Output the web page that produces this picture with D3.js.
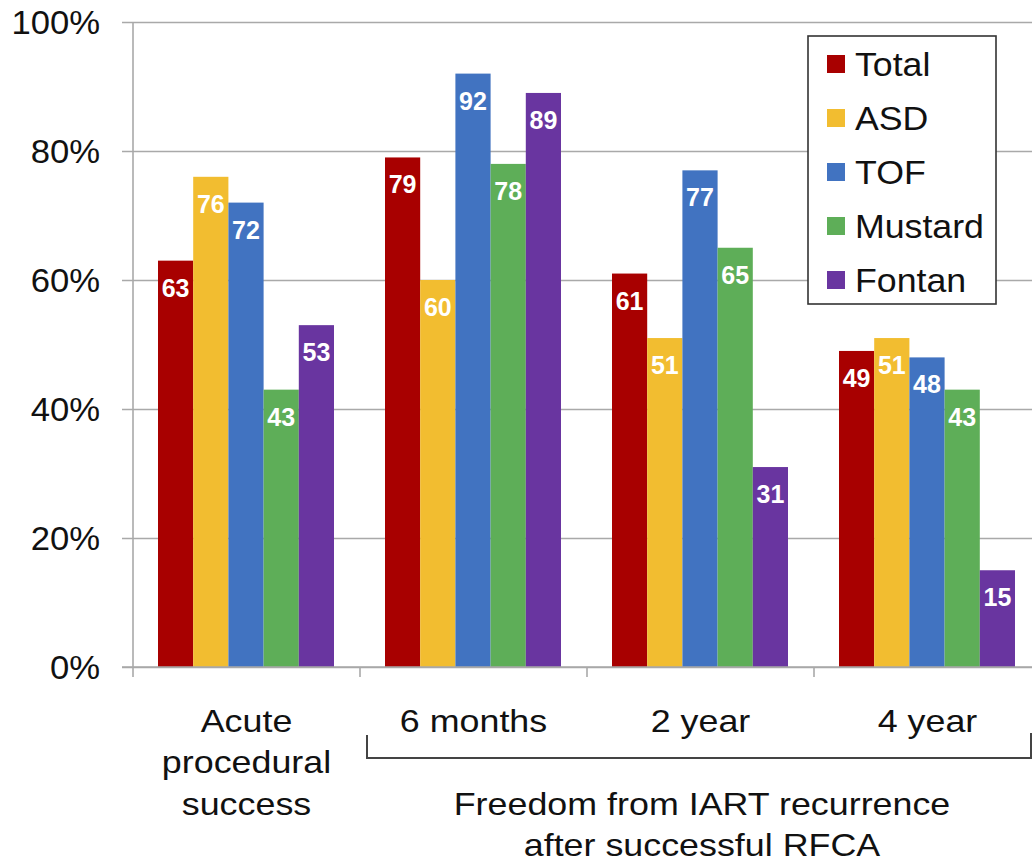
<!DOCTYPE html>
<html>
<head>
<meta charset="utf-8">
<script src="https://cdn.jsdelivr.net/npm/d3@7"></script>
<style>
  html, body { margin: 0; padding: 0; background: #fff; }
  svg { display: block; font-family: "Liberation Sans", Arial, sans-serif; }
</style>
</head>
<body>
<svg id="chart" width="1032" height="862"></svg>
<script>
// Categories along the x axis (multi-line labels split by "\n")
const categories = ["Acute\nprocedural\nsuccess", "6 months", "2 year", "4 year"];
// Series shown in the legend
const series = ["Total", "ASD", "TOF", "Mustard", "Fontan"];
const colors = ["#a80000", "#f2bd30", "#4173c1", "#5eae58", "#6935a0"];
// Percent values, one array per series, ordered by category
const total   = [63, 79, 61, 49];
const asd     = [76, 60, 51, 51];
const tof     = [72, 92, 77, 48];
const mustard = [43, 78, 65, 43];
const fontan  = [53, 89, 31, 15];
const yTicks = [0, 20, 40, 60, 80, 100];
const groupLabel = ["Freedom from IART recurrence", "after successful RFCA"];

const values = [total, asd, tof, mustard, fontan];
const rows = [];
categories.forEach((c, ci) => {
  series.forEach((s, si) => rows.push({ cat: c, ser: s, si, v: values[si][ci] }));
});

const svg = d3.select("#chart");
const m = { left: 133, top: 22, bottom: 667 };

const y = d3.scaleLinear().domain([0, 100]).range([m.bottom, m.top]);
const x0 = d3.scaleBand().domain(categories).range([m.left, m.left + 908]).paddingInner(0);
const x1 = d3.scaleBand().domain(series).range([25, 201]);
const color = d3.scaleOrdinal().domain(series).range(colors);

// text helper: horizontally widened glyphs anchored at (x, y)
function wideText(parent, x, yPos, lines, size, sx, anchor, lineGap, firstDy) {
  const g = parent.append("g").attr("transform", `translate(${x},${yPos}) scale(${sx},1)`);
  const t = g.append("text").attr("text-anchor", anchor).attr("font-size", size).attr("fill", "#111");
  lines.forEach((line, i) => {
    t.append("tspan").attr("x", 0).attr("dy", i === 0 ? (firstDy || 0) : lineGap).text(line);
  });
  return t;
}

// gridlines
const yAxis = d3.axisLeft(y).tickValues(yTicks).tickSize(-(1032 - m.left)).tickSizeOuter(0)
  .tickFormat("");
const gy = svg.append("g").attr("transform", `translate(${m.left},0)`).call(yAxis);
gy.select(".domain").remove();
gy.selectAll(".tick line").attr("stroke", "#a9a9a9").attr("stroke-width", 1.6)
  .attr("x1", -11);

// y tick labels
yTicks.forEach(v => {
  wideText(svg, 100, y(v), [v + "%"], 33, 1.05, "end", 0, "0.35em");
});

// vertical axis line
svg.append("line").attr("x1", m.left).attr("x2", m.left)
  .attr("y1", y(100)).attr("y2", y(0)).attr("stroke", "#a9a9a9").attr("stroke-width", 1.6);

// bars
const g = svg.append("g");
g.selectAll("rect").data(rows).join("rect")
  .attr("x", d => x0(d.cat) + x1(d.ser))
  .attr("y", d => y(d.v))
  .attr("width", x1.bandwidth())
  .attr("height", d => y(0) - y(d.v))
  .attr("fill", d => color(d.ser));

// value labels inside bar ends
g.selectAll("text.val").data(rows).join("text").attr("class", "val")
  .attr("x", d => x0(d.cat) + x1(d.ser) + x1.bandwidth() / 2)
  .attr("y", d => y(d.v) + 36)
  .attr("text-anchor", "middle")
  .attr("font-size", 25).attr("font-weight", "bold").attr("fill", "#fff")
  .text(d => d.v);

// x axis line + category boundary ticks
svg.append("line").attr("x1", m.left - 11).attr("x2", 1032)
  .attr("y1", m.bottom).attr("y2", m.bottom).attr("stroke", "#a9a9a9").attr("stroke-width", 1.6);
categories.forEach(c => {
  svg.append("line").attr("x1", x0(c)).attr("x2", x0(c))
    .attr("y1", m.bottom).attr("y2", m.bottom + 10)
    .attr("stroke", "#a9a9a9").attr("stroke-width", 1.6);
});

// category labels
categories.forEach(c => {
  wideText(svg, x0(c) + x0.bandwidth() / 2, 732, c.split("\n"), 32, 1.12, "middle", 41.5);
});

// bracket grouping the follow-up categories
const bx0 = 367, bx1 = 1031, by = 758;
svg.append("path")
  .attr("d", `M${bx0},735 V${by} H${bx1} V733`)
  .attr("fill", "none").attr("stroke", "#444").attr("stroke-width", 2);
wideText(svg, 702, 815, groupLabel, 32, 1.12, "middle", 41.5);

// legend
const lg = svg.append("g");
lg.append("rect").attr("x", 808).attr("y", 36).attr("width", 188).attr("height", 268)
  .attr("fill", "#fff").attr("stroke", "#333").attr("stroke-width", 1.6);
series.forEach((s, i) => {
  const cy = 64 + i * 54;
  lg.append("rect").attr("x", 827).attr("y", cy - 9).attr("width", 18).attr("height", 18).attr("fill", color(s));
  wideText(lg, 855, cy, [s], 34, 1.05, "start", 0, "0.36em");
});
</script>
</body>
</html>
